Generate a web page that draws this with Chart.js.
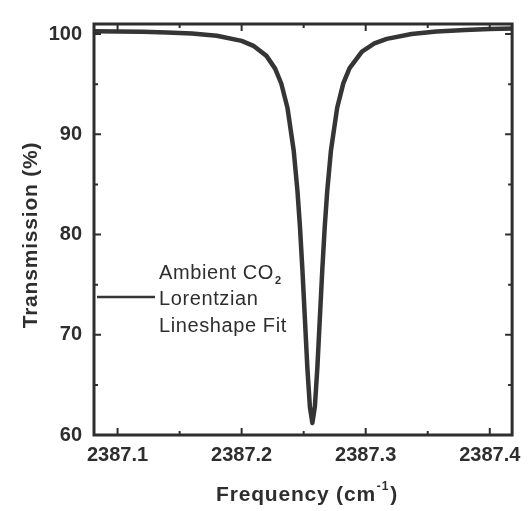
<!DOCTYPE html>
<html>
<head>
<meta charset="utf-8">
<script src="https://cdn.jsdelivr.net/npm/chart.js@4/dist/chart.umd.min.js"></script>
<style>
  html, body { margin: 0; padding: 0; background: #fff; }
  canvas { display: block; }
</style>
</head>
<body>
<canvas id="co2Chart" width="529" height="511"></canvas>
<script>
// Frequency (cm^-1) and transmission (%) of the fitted CO2 line
const freq = [
    2387.081, 2387.100, 2387.120, 2387.140, 2387.160, 2387.180, 2387.200, 2387.210,
    2387.220, 2387.227, 2387.232, 2387.237, 2387.242, 2387.245, 2387.247, 2387.249,
    2387.251, 2387.253, 2387.255, 2387.257, 2387.259, 2387.261, 2387.263, 2387.265,
    2387.267, 2387.269, 2387.272, 2387.277, 2387.282, 2387.287, 2387.297, 2387.307,
    2387.317, 2387.337, 2387.357, 2387.380, 2387.400, 2387.418
];
const transmission = [
    100.27, 100.26, 100.22, 100.16, 100.05, 99.83, 99.32, 98.79,
    97.82, 96.55, 95.04, 92.59, 88.34, 84.33, 80.79, 76.45,
    71.55, 66.65, 62.80, 61.20, 62.80, 66.65, 71.55, 76.45,
    80.80, 84.35, 88.40, 92.65, 95.10, 96.60, 98.25, 99.06,
    99.52, 100.01, 100.25, 100.41, 100.50, 100.55
];

const xTicks = [2387.1, 2387.2, 2387.3, 2387.4];
const xMinorTicks = [2387.15, 2387.25, 2387.35];
const yTicks = [60, 70, 80, 90, 100];
const yMinorTicks = [65, 75, 85, 95];

const legendLines = ['Ambient CO', 'Lorentzian', 'Lineshape Fit'];

const ink = '#2e2e2e';
const labelFont = { family: 'Liberation Sans', size: 20, weight: 'bold' };

// inward ticks on all four sides, the box frame, axis titles and the legend
const framePlugin = {
    id: 'frame',
    afterDatasetsDraw(chart) {
        const { ctx, chartArea: a, scales } = chart;
        const xs = scales.x, ys = scales.y;
        ctx.save();
        ctx.strokeStyle = ink;
        ctx.lineCap = 'butt';

        ctx.lineWidth = 2;
        const tick = (vals, len) => {
            vals.forEach(v => {
                const px = xs.getPixelForValue(v);
                ctx.beginPath();
                ctx.moveTo(px, a.bottom); ctx.lineTo(px, a.bottom - len);
                ctx.moveTo(px, a.top); ctx.lineTo(px, a.top + len);
                ctx.stroke();
            });
        };
        const ytick = (vals, len) => {
            vals.forEach(v => {
                const py = ys.getPixelForValue(v);
                ctx.beginPath();
                ctx.moveTo(a.left, py); ctx.lineTo(a.left + len, py);
                ctx.moveTo(a.right, py); ctx.lineTo(a.right - len, py);
                ctx.stroke();
            });
        };
        tick(xTicks, 7);
        tick(xMinorTicks, 4);
        ytick(yTicks, 7);
        ytick(yMinorTicks, 4);

        ctx.lineWidth = 3;
        ctx.strokeRect(a.left, a.top, a.right - a.left, a.bottom - a.top);

        // legend
        const ds = chart.data.datasets[0];
        ctx.strokeStyle = ds.borderColor;
        ctx.lineWidth = 2.5;
        ctx.beginPath();
        ctx.moveTo(a.left + 3, 297);
        ctx.lineTo(a.left + 61, 297);
        ctx.stroke();

        ctx.fillStyle = ink;
        ctx.textBaseline = 'alphabetic';
        ctx.textAlign = 'left';
        ctx.font = '20px "Liberation Sans", Arial, sans-serif';
        ctx.letterSpacing = '0.6px';
        const lx = a.left + 65;
        ctx.fillText(legendLines[0], lx, 279);
        const w0 = ctx.measureText(legendLines[0]).width;
        ctx.fillText(legendLines[1], lx, 305);
        ctx.fillText(legendLines[2], lx, 332);
        ctx.font = 'bold 11px "Liberation Sans", Arial, sans-serif';
        ctx.fillText('2', lx + w0 + 1, 284);

        // axis titles
        ctx.font = 'bold 21px "Liberation Sans", Arial, sans-serif';
        ctx.letterSpacing = '0.8px';
        ctx.save();
        ctx.translate(37, 235);
        ctx.rotate(-Math.PI / 2);
        ctx.textAlign = 'center';
        ctx.fillText('Transmission (%)', 0, 0);
        ctx.restore();

        const main = 'Frequency (cm';
        ctx.font = 'bold 21px "Liberation Sans", Arial, sans-serif';
        const wMain = ctx.measureText(main).width;
        ctx.font = 'bold 12px "Liberation Sans", Arial, sans-serif';
        const sup = '-1';
        const wSup = ctx.measureText(sup).width;
        ctx.font = 'bold 21px "Liberation Sans", Arial, sans-serif';
        const wClose = ctx.measureText(')').width;
        let tx = 307 - (wMain + wSup + wClose + 2) / 2;
        const ty = 501;
        ctx.fillText(main, tx, ty);
        tx += wMain + 1;
        ctx.font = 'bold 12px "Liberation Sans", Arial, sans-serif';
        ctx.fillText(sup, tx, ty - 11);
        tx += wSup + 1;
        ctx.font = 'bold 21px "Liberation Sans", Arial, sans-serif';
        ctx.fillText(')', tx, ty);
        ctx.restore();
    }
};

const ctx = document.getElementById('co2Chart').getContext('2d');
const chart = new Chart(ctx, {
    type: 'scatter',
    data: {
        datasets: [
            {
                label: 'Ambient CO2 Lorentzian Lineshape Fit',
                data: freq.map((f, i) => ({ x: f, y: transmission[i] })),
                showLine: true,
                borderColor: '#353535',
                borderWidth: 4.5,
                pointRadius: 0,
                tension: 0,
                borderJoinStyle: 'round',
                borderCapStyle: 'round',
            },
        ],
    },
    options: {
        responsive: false,
        animation: false,
        layout: { padding: { top: 11, right: 12, left: 0, bottom: 0 } },
        plugins: { legend: { display: false }, tooltip: { enabled: false } },
        scales: {
            x: {
                type: 'linear',
                min: 2387.081,
                max: 2387.418,
                afterBuildTicks: s => { s.ticks = xTicks.map(v => ({ value: v })); },
                afterFit: s => { s.height = 76; },
                grid: { display: false, drawTicks: false },
                border: { display: false },
                ticks: {
                    padding: 8,
                    color: ink,
                    font: labelFont,
                    callback: v => v.toFixed(1),
                },
            },
            y: {
                min: 60,
                max: 101,
                afterBuildTicks: s => { s.ticks = yTicks.map(v => ({ value: v })); },
                afterFit: s => { s.width = 94; },
                grid: { display: false, drawTicks: false },
                border: { display: false },
                ticks: {
                    padding: 12,
                    color: ink,
                    font: labelFont,
                    callback: v => String(v),
                },
            },
        },
    },
    plugins: [framePlugin],
});
</script>
</body>
</html>
